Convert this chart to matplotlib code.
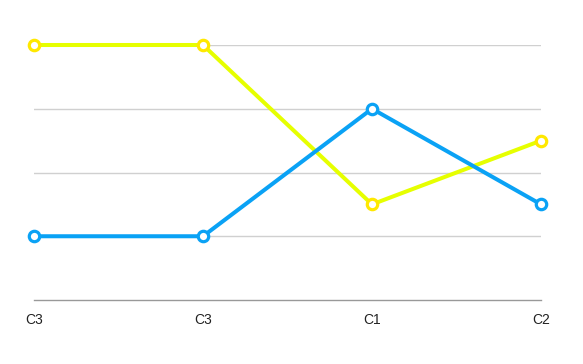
import numpy as np
import matplotlib.pyplot as plt

plt.rcParams['font.family'] = ['Liberation Sans', 'DejaVu Sans']

categories = ['C3', 'C3', 'C1', 'C2']
yellow_vals = [4, 4, 1.5, 2.5]
blue_vals = [1, 1, 3, 1.5]

fig = plt.figure(figsize=(5.83, 3.64), dpi=100)
ax = fig.add_axes([34 / 583, 64 / 364, 507 / 583, 255 / 364])

x = np.arange(len(categories))
for vals, lc, mc in [(yellow_vals, '#E6FF00', '#FFE800'), (blue_vals, '#0AA2F5', '#0AA2F5')]:
    ax.plot(x, vals, color=lc, lw=2.9, marker='o', ms=7.5, mfc='white',
            mec=mc, mew=2.3, clip_on=False, zorder=3)

ax.set_xlim(0, len(categories) - 1)
ax.set_ylim(0, 4)
ax.set_yticks([1, 2, 3, 4])
ax.grid(axis='y', color='#d0d0d0', lw=1)
ax.tick_params(axis='y', length=0, labelleft=False)
ax.set_xticks(x)
ax.set_xticklabels(categories, fontsize=10, color='#222222')
ax.tick_params(axis='x', length=0, pad=9)
for s in ['top', 'right', 'left']:
    ax.spines[s].set_visible(False)
ax.spines['bottom'].set_color('#999999')
ax.spines['bottom'].set_linewidth(1)

fig.savefig('out.png', dpi=100)
